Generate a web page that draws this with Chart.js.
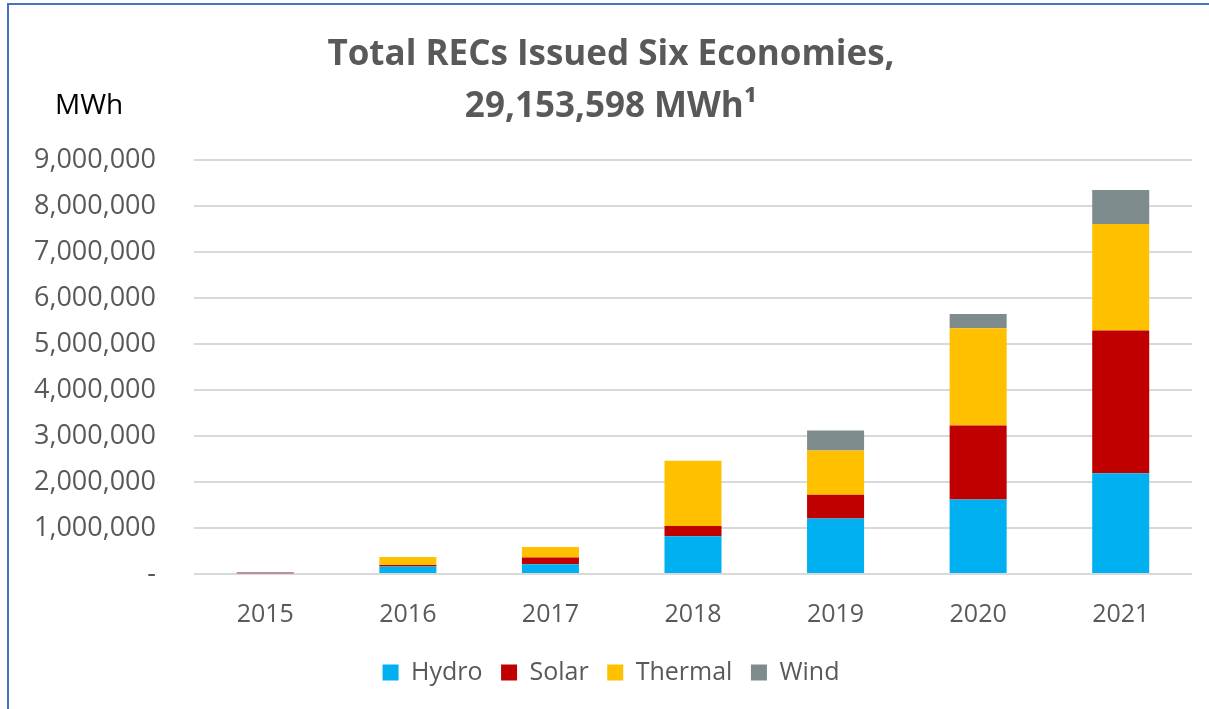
<!DOCTYPE html>
<html>
<head>
<meta charset="utf-8">
<script src="https://cdn.jsdelivr.net/npm/chart.js@4"></script>
<style>
  html, body { margin: 0; padding: 0; background: #fff; }
  body { width: 1209px; height: 709px; overflow: hidden; position: relative; font-family: 'Open Sans', sans-serif; }
  .frame { position: absolute; left: 7px; top: 3px; width: 1300px; height: 800px; border-left: 2px solid #4472c4; border-top: 2px solid #4472c4; }
  .unit { position: absolute; left: 55px; top: 84px; font-size: 28px; line-height: 38px; color: #000; }
  .wrap { position: absolute; left: 0; top: 0; width: 1209px; height: 709px; }
</style>
</head>
<body>
<div class="frame"></div>
<div class="wrap"><canvas id="recChart"></canvas></div>
<div class="unit">MWh</div>
<script>
  const years = ['2015', '2016', '2017', '2018', '2019', '2020', '2021'];
  const hydro = [15000, 163000, 210000, 822000, 1205000, 1619000, 2190000];
  const solar = [15000, 30000, 150000, 224000, 517000, 1607000, 3106000];
  const thermal = [0, 175000, 225000, 1417000, 965000, 2114000, 2311000];
  const wind = [0, 0, 0, 0, 430000, 312000, 741000];
  const titleLines = ['Total RECs Issued Six Economies,', '29,153,598 MWh\u00b9'];

  const grey = '#595959';
  const font = "'Open Sans', sans-serif";

  const ctx = document.getElementById('recChart').getContext('2d');
  const recChart = new Chart(ctx, {
    type: 'bar',
    data: {
      labels: years,
      datasets: [
        { label: 'Hydro', data: hydro, backgroundColor: '#00b0f0' },
        { label: 'Solar', data: solar, backgroundColor: '#c00000' },
        { label: 'Thermal', data: thermal, backgroundColor: '#ffc000' },
        { label: 'Wind', data: wind, backgroundColor: '#7f8c8d' }
      ]
    },
    options: {
      responsive: true,
      maintainAspectRatio: false,
      animation: false,
      layout: { padding: { left: 30, right: 17, top: 0, bottom: 14 } },
      datasets: {
        bar: { categoryPercentage: 1, barPercentage: 0.4 }
      },
      plugins: {
        title: {
          display: true,
          text: titleLines,
          color: grey,
          font: { family: font, size: 35, weight: 'bold', lineHeight: 1.486 },
          padding: { top: 29, bottom: 27 }
        },
        legend: {
          position: 'bottom',
          labels: {
            color: grey,
            font: { family: font, size: 25 },
            boxWidth: 16,
            boxHeight: 16,
            padding: 12,
            // a trailing space widens the gap between items, like the original
            generateLabels: function(chart) {
              const items = Chart.defaults.plugins.legend.labels.generateLabels(chart);
              items.forEach(function(it, i) {
                if (i < items.length - 1) it.text = it.text + ' ';
              });
              return items;
            }
          }
        },
        tooltip: { enabled: false }
      },
      scales: {
        x: {
          stacked: true,
          grid: { display: false },
          border: { display: false },
          ticks: { color: grey, font: { family: font, size: 25 }, padding: 18 }
        },
        y: {
          stacked: true,
          min: 0,
          max: 9000000,
          afterFit: function(scale) { scale.width = 164; },
          grid: { color: '#d9d9d9', lineWidth: 2, drawTicks: false },
          border: { display: false },
          ticks: {
            stepSize: 1000000,
            color: grey,
            padding: 38,
            font: { family: font, size: 27 },
            callback: function(v) { return v === 0 ? '-' : v.toLocaleString('en-US'); }
          }
        }
      }
    }
  });
</script>
</body>
</html>
